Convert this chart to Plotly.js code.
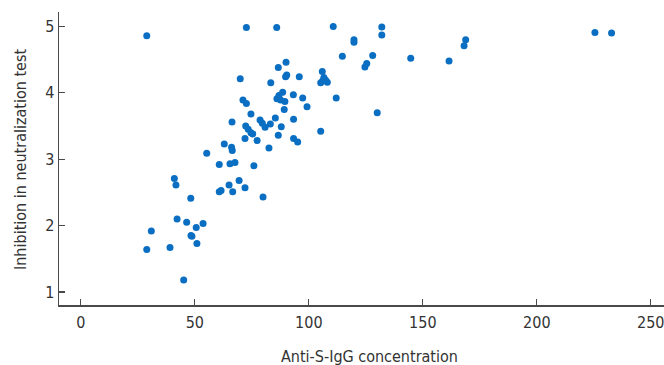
<!DOCTYPE html>
<html>
<head>
<meta charset="utf-8">
<script src="https://cdn.plot.ly/plotly-3.0.1.min.js"></script>
<style>html,body{margin:0;padding:0;background:#fff;}#chart{width:664px;height:365px;}</style>
</head>
<body>
<div id="chart"></div>
<script>
const antiSIgG = [
  28.9, 72.6, 85.9, 110.7, 132.0, 132.0, 119.8, 119.8, 114.7, 128.0,
  125.4, 124.6, 144.7, 161.5, 168.8, 168.1, 225.5, 232.8, 90.0, 86.6,
  69.9, 83.3, 90.3, 89.8, 95.8, 105.9, 106.6, 107.4, 105.2, 108.1,
  106.1, 112.0, 130.0, 105.2, 71.1, 72.6, 74.6, 66.3, 72.3, 73.4,
  74.6, 75.4, 72.0, 77.3, 78.6, 79.6, 80.8, 83.1, 85.3, 87.9,
  86.6, 82.5, 93.3, 93.3, 95.1, 89.2, 93.2, 97.3, 99.2, 88.5,
  86.9, 86.0, 87.6, 89.5, 66.1, 66.4, 62.9, 55.2, 60.7, 65.4,
  67.6, 75.9, 41.0, 41.7, 48.2, 60.7, 61.5, 65.0, 66.6, 69.4,
  72.0, 79.9, 42.2, 46.4, 50.6, 53.6, 48.3, 48.7, 50.9, 30.9,
  28.9, 39.1, 45.1
];
const inhibition = [
  4.86, 4.985, 4.985, 5.0, 4.99, 4.87, 4.80, 4.76, 4.55, 4.56,
  4.44, 4.39, 4.52, 4.48, 4.80, 4.71, 4.91, 4.90, 4.46, 4.38,
  4.21, 4.15, 4.27, 4.24, 4.24, 4.32, 4.23, 4.19, 4.15, 4.16,
  4.18, 3.92, 3.70, 3.42, 3.89, 3.84, 3.68, 3.56, 3.50, 3.45,
  3.40, 3.38, 3.31, 3.28, 3.59, 3.54, 3.48, 3.53, 3.62, 3.49,
  3.36, 3.17, 3.60, 3.31, 3.26, 3.75, 3.97, 3.92, 3.79, 4.01,
  3.96, 3.91, 3.89, 3.87, 3.18, 3.13, 3.23, 3.09, 2.92, 2.93,
  2.95, 2.90, 2.71, 2.61, 2.41, 2.51, 2.53, 2.61, 2.51, 2.68,
  2.57, 2.43, 2.10, 2.05, 1.97, 2.03, 1.85, 1.84, 1.73, 1.92,
  1.64, 1.67, 1.18
];
const xTicks = [0, 50, 100, 150, 200, 250];
const yTicks = [1, 2, 3, 4, 5];
const xTitle = 'Anti-S-IgG concentration';
const yTitle = 'Inhibition in neutralization test';

const FONT = '"Liberation Sans Narrow", "DejaVu Sans Condensed", "Liberation Sans", Arial, sans-serif';
const TXT = '#333333';

const trace = {
  type: 'scatter',
  mode: 'markers',
  x: antiSIgG,
  y: inhibition,
  marker: {color: '#0a6fc2', size: 7, line: {width: 0}},
  hoverinfo: 'x+y',
  cliponaxis: false
};

const axisCommon = {
  ticks: 'inside',
  ticklen: 6,
  tickwidth: 1.2,
  tickcolor: '#4a4a4a',
  showline: true,
  linecolor: '#4a4a4a',
  linewidth: 1.5,
  showgrid: false,
  zeroline: false,
  automargin: false,
  ticklabeloverflow: 'allow',
  tickfont: {family: FONT, size: 16, color: TXT}
};

const layout = {
  width: 664,
  height: 365,
  margin: {l: 59, r: 0, t: 12, b: 60},
  paper_bgcolor: '#ffffff',
  plot_bgcolor: '#ffffff',
  showlegend: false,
  font: {family: FONT, color: TXT, size: 16},
  xaxis: Object.assign({}, axisCommon, {
    range: [-9.6, 255.8],
    tickvals: xTicks,
    ticktext: xTicks.map(String),
    ticklabelstandoff: 2
  }),
  yaxis: Object.assign({}, axisCommon, {
    range: [0.804, 5.217],
    tickvals: yTicks,
    ticktext: yTicks.map(String)
  }),
  annotations: [
    {text: xTitle, xref: 'paper', yref: 'paper', x: (369.5 - 59) / 605, y: 0,
     xanchor: 'center', yanchor: 'middle', yshift: -51, showarrow: false,
     font: {family: FONT, size: 16, color: TXT}},
    {text: yTitle, xref: 'paper', yref: 'paper', x: 0, y: (305 - 160) / 293,
     xanchor: 'center', yanchor: 'middle', xshift: -39, textangle: -90, showarrow: false,
     font: {family: FONT, size: 16, color: TXT}}
  ]
};

Plotly.newPlot('chart', [trace], layout, {displayModeBar: false, staticPlot: true});
</script>
</body>
</html>
